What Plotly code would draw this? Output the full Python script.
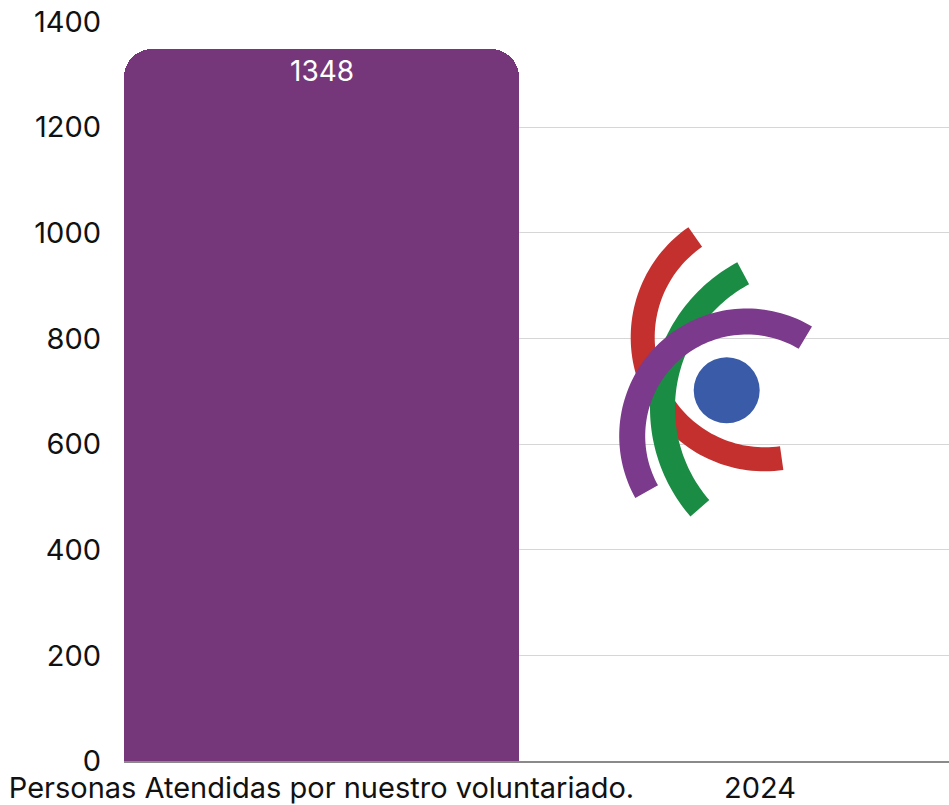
import numpy as np
import plotly.graph_objects as go

# ---- data ----
categories = ["Personas Atendidas por nuestro voluntariado.", "2024"]
values = [1348, None]
y_ticks = [0, 200, 400, 600, 800, 1000, 1200, 1400]

# ---- layout constants ----
W, H = 949, 805
ML, MR, MT, MB = 124, 0, 21, 44
PW, PH = W - ML - MR, H - MT - MB
FONT = "Inter, Roboto, sans-serif"
FS = 29


def to_paper(px, py):
    return (px - ML) / PW, (MT + PH - py) / PH


def arc_path(cx, cy, r, w, a0, a1, n=80):
    t = np.radians(np.linspace(a0, a1, n))
    ro, ri = r + w / 2, r - w / 2
    pts = [(cx + ro * np.cos(a), cy + ro * np.sin(a)) for a in t]
    pts += [(cx + ri * np.cos(a), cy + ri * np.sin(a)) for a in t[::-1]]
    pp = [to_paper(x, y) for x, y in pts]
    return "M " + " L ".join(f"{x:.5f},{y:.5f}" for x, y in pp) + " Z"


fig = go.Figure()
fig.add_trace(go.Bar(
    x=categories, y=values,
    marker=dict(color="#753779", cornerradius=28, line=dict(width=0)),
    width=0.9008,
    hoverinfo="skip",
))

# value labels (from data)
annotations = []
for c, v in zip(categories, values):
    if v is not None:
        annotations.append(dict(x=c, y=v, xref="x", yref="y", text=str(v),
                                showarrow=False, yanchor="top", yshift=-3,
                                font=dict(color="white", size=FS - 1, family=FONT)))

# logo (decorative)
logo_arcs = [
    dict(cx=764.7, cy=337.3, r=122, w=24, a0=235.3, a1=82, color="#C4302E"),
    dict(cx=815.5, cy=408.1, r=153, w=25, a0=241.8, a1=139.1, color="#1B8C43"),
    dict(cx=746.7, cy=436.0, r=114.5, w=26, a0=300.8, a1=150.9, color="#7B3A8C"),
]
shapes = []
for a in logo_arcs:
    shapes.append(dict(type="path", xref="paper", yref="paper",
                       path=arc_path(a["cx"], a["cy"], a["r"], a["w"], a["a0"], a["a1"]),
                       fillcolor=a["color"], line=dict(width=0), layer="above"))
cx0, cy0 = to_paper(726.7 - 33, 390.3 + 33)
cx1, cy1 = to_paper(726.7 + 33, 390.3 - 33)
shapes.append(dict(type="circle", xref="paper", yref="paper", x0=cx0, y0=cy0, x1=cx1, y1=cy1,
                   fillcolor="#3A5CA8", line=dict(width=0), layer="above"))

fig.update_layout(
    width=W, height=H,
    margin=dict(l=ML, r=MR, t=MT, b=MB, autoexpand=False),
    paper_bgcolor="white", plot_bgcolor="white",
    showlegend=False,
    font=dict(family=FONT, size=FS, color="#111111"),
    shapes=shapes,
    annotations=annotations,
    xaxis=dict(type="category", range=[-0.4504, 1.431], showgrid=False,
               showline=True, linecolor="#8a8a8a", linewidth=1.5,
               ticks="", tickfont=dict(size=FS, color="#111111"),
               automargin=False, fixedrange=True),
    yaxis=dict(range=[0, 1401], tickvals=y_ticks, showgrid=True,
               gridcolor="#d6d6d6", gridwidth=1, zeroline=False,
               showline=False, ticks="", ticklabelstandoff=22,
               tickfont=dict(size=FS, color="#111111"),
               automargin=False, fixedrange=True),
    bargap=0,
)

fig.write_html("out.html", config={"displayModeBar": False},
               post_script="document.body.style.margin='0';document.body.style.overflow='hidden';")
